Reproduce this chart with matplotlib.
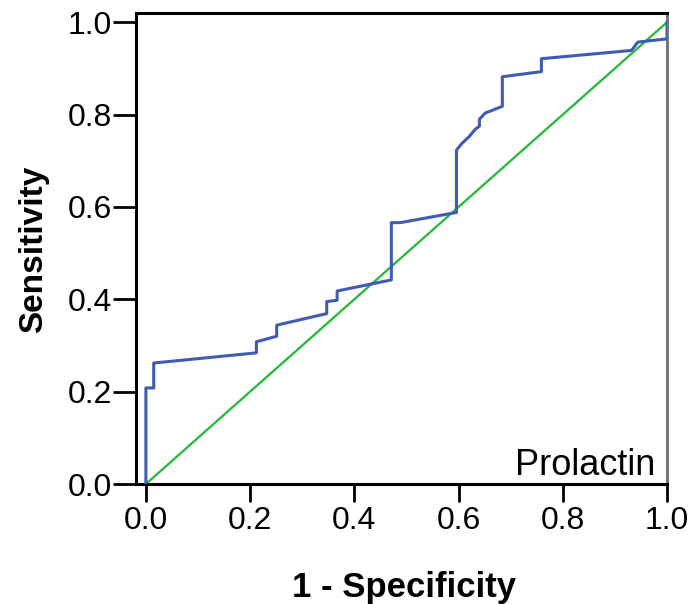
import matplotlib
matplotlib.use('Agg')
import matplotlib.pyplot as plt

# ROC curve points (1 - specificity, sensitivity)
fpr = [0.0, 0.0, 0.015, 0.015, 0.212, 0.212, 0.251, 0.251, 0.347, 0.347, 0.367, 0.367,
       0.471, 0.471, 0.488, 0.596, 0.596, 0.606, 0.620, 0.632, 0.640, 0.640, 0.652, 0.662,
       0.684, 0.684, 0.759, 0.759, 0.932, 0.944, 1.0, 1.0]
tpr = [0.0, 0.208, 0.208, 0.262, 0.284, 0.308, 0.320, 0.344, 0.369, 0.395, 0.398, 0.418,
       0.442, 0.566, 0.566, 0.588, 0.723, 0.737, 0.752, 0.768, 0.775, 0.790, 0.804, 0.808,
       0.818, 0.882, 0.893, 0.921, 0.939, 0.957, 0.964, 1.0]
ref_x = [0.0, 1.0]
ref_y = [0.0, 1.0]
ticks = [0.0, 0.2, 0.4, 0.6, 0.8, 1.0]
tick_labels = ['0.0', '0.2', '0.4', '0.6', '0.8', '1.0']

plt.rcParams['font.family'] = ['Liberation Sans', 'DejaVu Sans']

W, H = 692, 604
fig = plt.figure(figsize=(W / 100, H / 100), dpi=100)
ax = fig.add_axes([136 / W, 1 - 484 / H, 531 / W, 471 / H])

ax.plot(fpr, tpr, color='#3f5bb3', linewidth=2.2, zorder=3)
ax.plot(ref_x, ref_y, color='#2dba3c', linewidth=1.7, zorder=2)

ax.set_xlim(-0.019, 1.0)
ax.set_ylim(0.0, 1.02)
ax.set_xticks(ticks)
ax.set_xticklabels(tick_labels)
ax.set_yticks(ticks)
ax.set_yticklabels(tick_labels)
ax.tick_params(direction='out', width=2, labelsize=23, top=False, right=False)
ax.tick_params(axis='x', length=13, pad=3)
ax.tick_params(axis='y', length=16.5, pad=1)

for side in ['left', 'bottom', 'top']:
    ax.spines[side].set_linewidth(2.2)
    ax.spines[side].set_color('black')
ax.spines['right'].set_linewidth(2.2)
ax.spines['right'].set_color('#777777')

fig.text(404 / W, 1 - 597 / H, '1 - Specificity', fontsize=25, fontweight='bold',
         ha='center', va='baseline')
fig.text(42 / W, 1 - 249.5 / H, 'Sensitivity', fontsize=24, fontweight='bold',
         rotation=90, rotation_mode='anchor', ha='center', va='baseline')
fig.text(655 / W, 1 - 475 / H, 'Prolactin', fontsize=26, ha='right', va='baseline')

fig.savefig('out.png', dpi=100)
